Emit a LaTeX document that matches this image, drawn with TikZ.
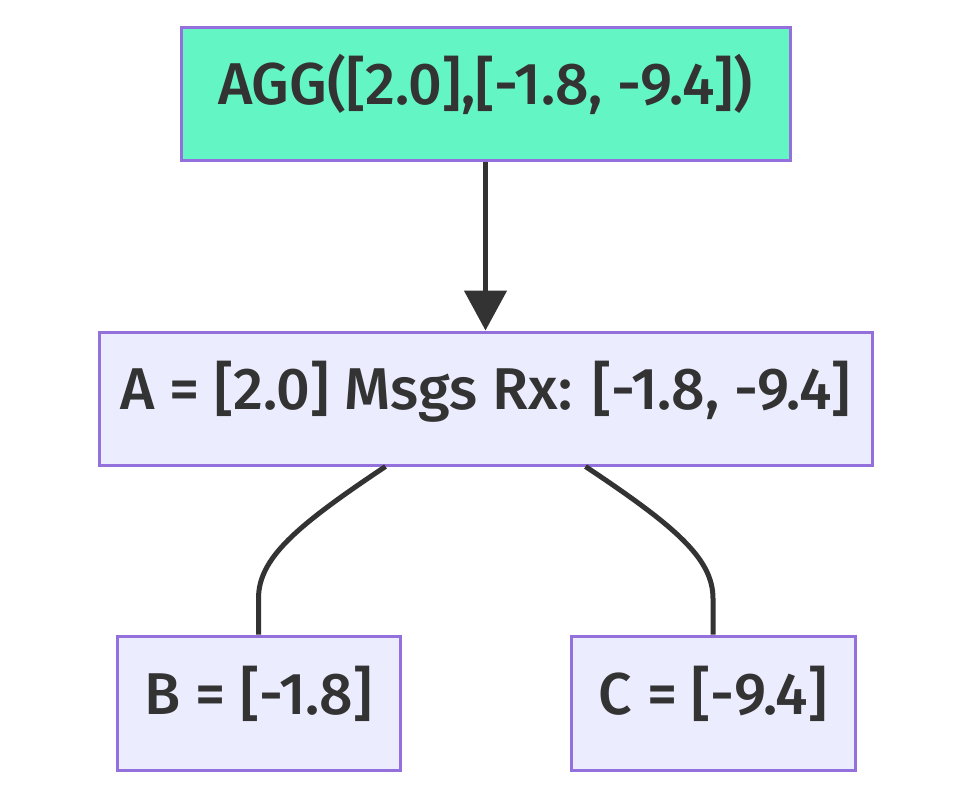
\documentclass[tikz,border=0pt]{standalone}
\usepackage{fontspec}
\setmainfont{Fira Sans}[UprightFont=* Medium]
\usetikzlibrary{arrows.meta}
\definecolor{aggfill}{HTML}{64F5C4}
\definecolor{nodefill}{HTML}{ECECFF}
\definecolor{nodeborder}{HTML}{9370DB}
\definecolor{ink}{HTML}{333333}
\begin{document}
\begin{tikzpicture}[x=1pt,y=-1pt,
  box/.style={draw=nodeborder,line width=3pt,fill=nodefill,text=ink,inner sep=0pt,
    text height=42pt,text depth=20pt,
    font=\fontsize{59}{65}\selectfont},
  link/.style={draw=ink,line width=5pt}]
\useasboundingbox[fill=white] (0,0) rectangle (972,798);
\node[box,fill=aggfill,minimum width=609pt,minimum height=133pt] (agg) at (485.5,93.5) {AGG([2.0],[-1.8, -9.4])};
\node[box,minimum width=773pt,minimum height=133pt] (a) at (485.5,398.5) {A = [2.0] Msgs Rx: [-1.8, -9.4]};
\node[box,minimum width=283pt,minimum height=134pt] (b) at (258.5,703) {B = [-1.8]};
\node[box,minimum width=284pt,minimum height=134pt] (c) at (713,703) {C = [-9.4]};
\draw[link,-{Triangle[length=40pt,width=42pt]}] (agg.south) -- (a.north);
\coordinate (al) at ([xshift=-100pt]a.south);
\coordinate (ar) at ([xshift=100pt]a.south);
\draw[link] (al) .. controls ([xshift=-90pt,yshift=-60pt]al) and ([yshift=76pt]b.north) .. ([yshift=36pt]b.north) -- (b.north);
\draw[link] (ar) .. controls ([xshift=90pt,yshift=-60pt]ar) and ([yshift=76pt]c.north) .. ([yshift=36pt]c.north) -- (c.north);
\end{tikzpicture}
\end{document}
